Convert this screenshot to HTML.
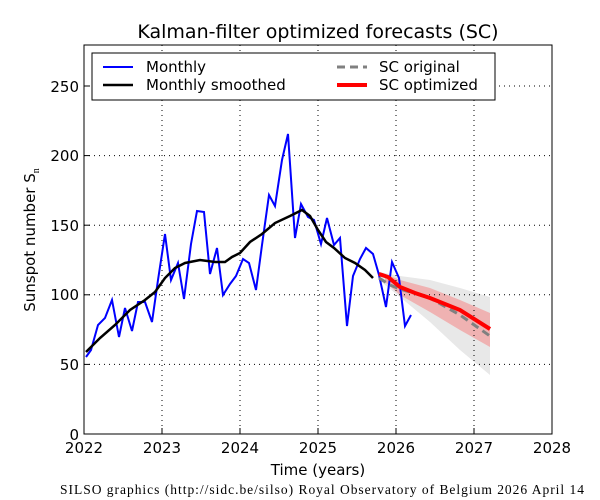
<!DOCTYPE html>
<html><head><meta charset="utf-8"><style>body{margin:0;background:#fff}svg{display:block}</style></head><body>
<svg width="600" height="500" xmlns="http://www.w3.org/2000/svg" font-family="DejaVu Sans, Liberation Sans, sans-serif">
<rect width="600" height="500" fill="#fff"/>
<text x="318" y="38" font-size="19" text-anchor="middle">Kalman-filter optimized forecasts (SC)</text>
<polygon points="379,272 400,276 430,280 460,288 490,297 490,375 460,350 430,322 400,297 379,280" fill="#e8e8e8"/>
<polygon points="385,274 400,280 430,288 460,300 490,313 490,347 460,330 430,312 400,295 385,282" fill="#f0a8a8" opacity="0.85"/>
<g stroke="#000" stroke-width="1" stroke-dasharray="1,4">
<line x1="162" y1="45" x2="162" y2="434"/><line x1="240" y1="45" x2="240" y2="434"/><line x1="318" y1="45" x2="318" y2="434"/><line x1="396" y1="45" x2="396" y2="434"/><line x1="474" y1="45" x2="474" y2="434"/>
<line x1="84" y1="364.4" x2="552" y2="364.4"/><line x1="84" y1="294.8" x2="552" y2="294.8"/><line x1="84" y1="225.2" x2="552" y2="225.2"/><line x1="84" y1="155.6" x2="552" y2="155.6"/><line x1="84" y1="86" x2="552" y2="86"/>
</g>
<polyline fill="none" stroke="#00f" stroke-width="2" points="86,357 91,350 98,325 105,318 112,300 119,337 125,308 132,331 138,302 145,302 152,322 158,280 165,234 171,280 178,263 184,299 191,244 197,211 204,212 210,274 217,248 223,295 230,284 236,276 243,259 249,263 256,290 262,245 269,195 275,206 282,160 288,134 295,238 301,204 308,217 314,220 321,244 327,218 334,245 340,238 347,326 353,276 360,259 366,248 373,254 379,275 386,307 392,262 399,278 405,326 411,315"/>
<polyline fill="none" stroke="#000" stroke-width="2.5" points="86,352 100,338 115,325 130,310 145,300 155,292 165,278 175,268 185,263 200,260 215,262 225,262 232,257 240,253 250,242 262,234 275,223 290,216 302,210 310,216 318,230 326,242 334,248 345,258 355,263 365,270 373,278"/>
<polyline fill="none" stroke="#808080" stroke-width="3" stroke-dasharray="8,5" points="379,278 390,285 400,289 430,298 460,315 490,336"/>
<polyline fill="none" stroke="#f00" stroke-width="4" points="379,274 388,277 400,287 415,293 430,298 460,310 490,329"/>
<rect x="84" y="45" width="468" height="389" fill="none" stroke="#000" stroke-width="1"/>
<g stroke="#000">
<line x1="162" y1="434" x2="162" y2="428"/><line x1="240" y1="434" x2="240" y2="428"/><line x1="318" y1="434" x2="318" y2="428"/><line x1="396" y1="434" x2="396" y2="428"/><line x1="474" y1="434" x2="474" y2="428"/>
<line x1="84" y1="364.4" x2="90" y2="364.4"/><line x1="84" y1="294.8" x2="90" y2="294.8"/><line x1="84" y1="225.2" x2="90" y2="225.2"/><line x1="84" y1="155.6" x2="90" y2="155.6"/><line x1="84" y1="86" x2="90" y2="86"/>
</g>
<g font-size="15" text-anchor="middle">
<text x="84" y="453">2022</text><text x="162" y="453">2023</text><text x="240" y="453">2024</text><text x="318" y="453">2025</text><text x="396" y="453">2026</text><text x="474" y="453">2027</text><text x="552" y="453">2028</text>
</g>
<g font-size="15" text-anchor="end">
<text x="79" y="440">0</text><text x="79" y="370">50</text><text x="79" y="300">100</text><text x="79" y="231">150</text><text x="79" y="161">200</text><text x="79" y="92">250</text>
</g>
<text x="318" y="475" font-size="15" text-anchor="middle">Time (years)</text>
<text transform="translate(35,240) rotate(-90)" font-size="15" text-anchor="middle">Sunspot number S<tspan font-size="10" dy="4" font-family="Liberation Serif, serif">n</tspan></text>
<rect x="92" y="53" width="403" height="47" fill="#fff" stroke="#000"/>
<line x1="103" y1="67" x2="133" y2="67" stroke="#00f" stroke-width="2"/>
<text x="146" y="72" font-size="15">Monthly</text>
<line x1="103" y1="85" x2="133" y2="85" stroke="#000" stroke-width="2.5"/>
<text x="146" y="90" font-size="15">Monthly smoothed</text>
<line x1="337" y1="67" x2="367" y2="67" stroke="#808080" stroke-width="3" stroke-dasharray="8,5"/>
<text x="379" y="72" font-size="15">SC original</text>
<line x1="337" y1="85" x2="367" y2="85" stroke="#f00" stroke-width="4"/>
<text x="379" y="90" font-size="15">SC optimized</text>
<text x="60" y="494" font-size="13.5" textLength="524" lengthAdjust="spacing" font-family="Liberation Serif, serif">SILSO graphics (http://sidc.be/silso)  Royal Observatory of Belgium  2026 April 14</text>
</svg>
</body></html>
